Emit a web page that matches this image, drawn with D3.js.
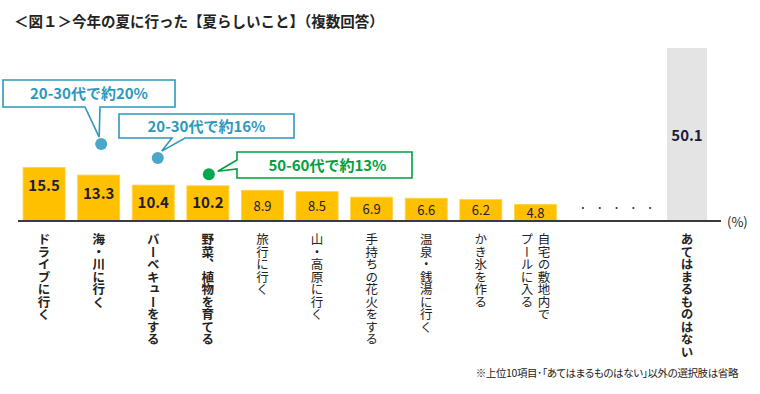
<!DOCTYPE html>
<html>
<head>
<meta charset="utf-8">
<script src="https://cdn.jsdelivr.net/npm/d3@7"></script>
<style>
  body { margin: 0; background: #fff; }
  svg { display: block; font-family: "Noto Sans CJK JP", "Noto Sans", sans-serif; }
</style>
</head>
<body>
<svg id="chart"></svg>
<script>
// Data
const categories = ["ドライブに行く", "海・川に行く", "バーベキューをする", "野菜、植物を育てる", "旅行に行く",
    "山・高原に行く", "手持ちの花火をする", "温泉・銭湯に行く", "かき氷を作る", "自宅の敷地内で\nプールに入る"];
const values = [15.5, 13.3, 10.4, 10.2, 8.9, 8.5, 6.9, 6.6, 6.2, 4.8];
const otherCategory = ["あてはまるものはない"];
const otherValue = [50.1];
const callouts = ["20-30代で約20%", "20-30代で約16%", "50-60代で約13%"];
const calloutCats = ["海・川に行く", "バーベキューをする", "野菜、植物を育てる"];
const title = "＜図１＞今年の夏に行った【夏らしいこと】（複数回答）";
const note = "※上位10項目･「あてはまるものはない」以外の選択肢は省略";

// Configuration
const W = 760, H = 394;
const baseY = 221;
const boldCount = 4;

const svg = d3.select("#chart").attr("width", W).attr("height", H);

const x = d3.scaleBand().domain(categories).range([10.5, 569]).padding(0.23);
const xOther = d3.scaleBand().domain(otherCategory).range([655, 719]).padding(0.23);
const y = d3.scaleLinear().domain([0, 50.1]).range([baseY, 48]);

// Title
svg.append("text")
    .attr("x", 14).attr("y", 27)
    .attr("font-size", "14.5px").attr("font-weight", "bold").attr("fill", "#222")
    .text(title);

// Bars
const data = categories.map((c, i) => ({ cat: c, value: values[i], i }));

svg.selectAll(".bar").data(data).enter().append("rect")
    .attr("class", "bar")
    .attr("x", d => x(d.cat))
    .attr("width", x.bandwidth())
    .attr("y", d => y(d.value))
    .attr("height", d => baseY - y(d.value))
    .attr("fill", "#FFC000")
    .attr("stroke", "#FFD24D").attr("stroke-width", 0.8);

svg.append("rect")
    .attr("x", xOther(otherCategory[0]))
    .attr("width", xOther.bandwidth())
    .attr("y", y(otherValue[0]))
    .attr("height", baseY - y(otherValue[0]))
    .attr("fill", "#E4E4E4");

// Value labels
svg.selectAll(".val").data(data).enter().append("text")
    .attr("class", "val")
    .attr("x", d => x(d.cat) + x.bandwidth() / 2)
    .attr("y", d => Math.min(y(d.value) + 19, (y(d.value) + baseY) / 2) + 5)
    .attr("text-anchor", "middle")
    .attr("font-size", d => d.i < boldCount ? "15px" : "13px")
    .attr("font-weight", d => d.i < boldCount ? "bold" : "normal")
    .attr("fill", "#1c1c3c")
    .text(d => d.value.toFixed(1));

svg.append("text")
    .attr("x", xOther(otherCategory[0]) + xOther.bandwidth() / 2)
    .attr("y", (y(otherValue[0]) + baseY) / 2 + 6)
    .attr("text-anchor", "middle")
    .attr("font-size", "15px").attr("font-weight", "bold").attr("fill", "#1c1c3c")
    .text(otherValue[0].toFixed(1));

// Ellipsis between the top 10 and the last item
svg.selectAll(".dot").data(d3.range(5)).enter().append("circle")
    .attr("cx", d => 583 + d * 16.8)
    .attr("cy", 208)
    .attr("r", 1.1)
    .attr("fill", "#333");

// Axis line
svg.append("line")
    .attr("x1", 18).attr("x2", 721)
    .attr("y1", baseY).attr("y2", baseY)
    .attr("stroke", "#3a3a44").attr("stroke-width", 2);

svg.append("text")
    .attr("x", 727).attr("y", 227)
    .attr("font-size", "13px").attr("fill", "#222")
    .text("(%)");

// Category labels (vertical)
function vLabel(cx, label, bold) {
    const cols = label.split("\n");
    cols.forEach((t, k) => {
        const off = (cols.length - 1) / 2 * 17 - k * 17;
        svg.append("text")
            .attr("x", cx + off).attr("y", 233)
            .style("writing-mode", "vertical-rl")
            .attr("font-size", "12.5px")
            .attr("font-weight", bold ? "bold" : "normal")
            .attr("fill", "#222")
            .text(t);
    });
}
data.forEach(d => vLabel(x(d.cat) + x.bandwidth() / 2, d.cat, d.i < boldCount));
vLabel(xOther(otherCategory[0]) + xOther.bandwidth() / 2, otherCategory[0], true);

// Callouts
const blue = "#2E98BA", blueDot = "#4AA7C9", green = "#00A03E", greenDot = "#00A84F";
const calloutLayout = [
    { dx: 2.5, dy: -31, box: [3, 80, 175, 107], color: blue, dot: blueDot,
      tail: (b, t) => `M${b[0]},${b[1]}H${b[2]}V${b[3]}H100L${t[0]},${t[1]}L85,${b[3]}H${b[0]}Z` },
    { dx: 4.5, dy: -27, box: [119, 114, 294, 138], color: blue, dot: blueDot,
      tail: (b, t) => `M${b[0]},${b[1]}H${b[2]}V${b[3]}H185L${t[0]},${t[1]}L172,${b[3]}H${b[0]}Z` },
    { dx: 1, dy: -11.5, box: [237, 152, 412, 178], color: green, dot: greenDot,
      tail: (b, t) => `M${b[0]},${b[1]}H${b[2]}V${b[3]}H${b[0]}V169L${t[0]},${t[1]}L${b[0]},160Z` }
];

callouts.forEach((txt, k) => {
    const L = calloutLayout[k];
    const cat = calloutCats[k];
    const v = values[categories.indexOf(cat)];
    const cx = x(cat) + x.bandwidth() / 2 + L.dx;
    const cy = y(v) + L.dy;
    const b = L.box;
    const tip = k === 2 ? [cx + 9, cy - 3] : [cx + (k === 0 ? -2 : 4), cy - 7];
    svg.append("path")
        .attr("d", L.tail(b, tip))
        .attr("fill", "#fff")
        .attr("stroke", L.color).attr("stroke-width", 1.6);
    svg.append("text")
        .attr("x", (b[0] + b[2]) / 2 + (k === 2 ? 3 : 0))
        .attr("y", (b[1] + b[3]) / 2 + 5.5)
        .attr("text-anchor", "middle")
        .attr("font-size", "15px").attr("font-weight", "bold")
        .attr("fill", L.color)
        .text(txt);
    svg.append("circle")
        .attr("cx", cx).attr("cy", cy).attr("r", 6)
        .attr("fill", L.dot);
});

// Footnote
svg.append("text")
    .attr("x", 738).attr("y", 377)
    .attr("text-anchor", "end")
    .attr("font-size", "10.5px").attr("fill", "#222")
    .style("font-feature-settings", "'palt'")
    .style("letter-spacing", "-0.4px")
    .text(note);
</script>
</body>
</html>
